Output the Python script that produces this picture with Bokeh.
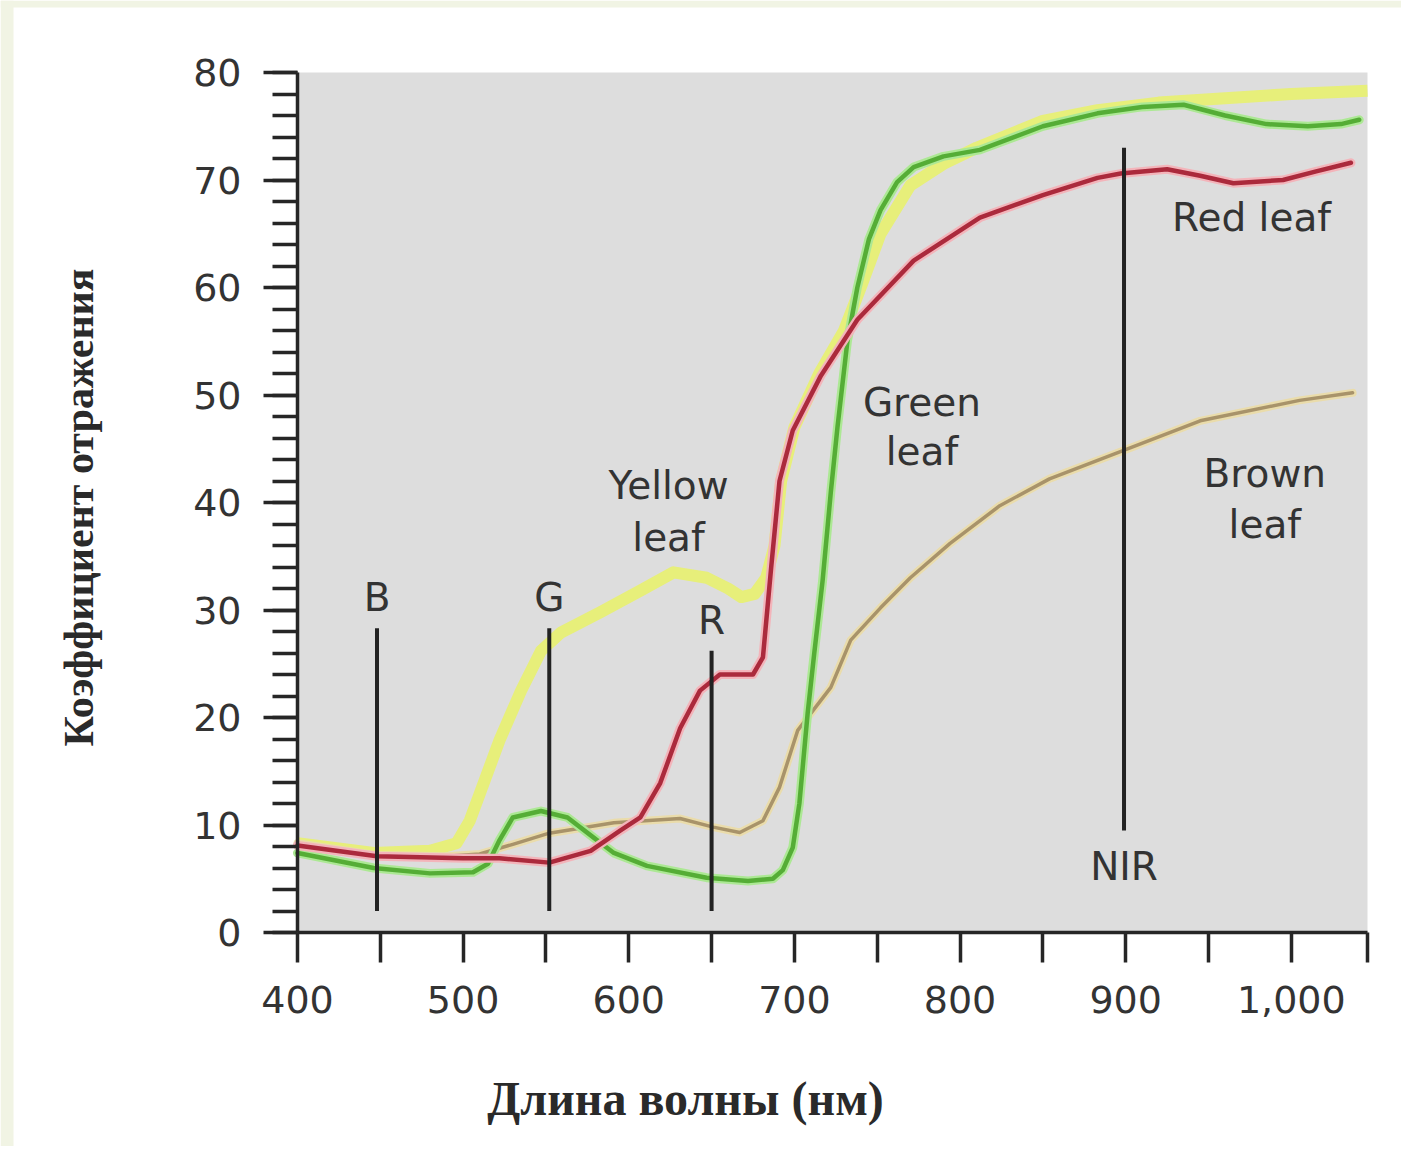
import math
from bokeh.plotting import figure
from bokeh.models import FixedTicker, BoxAnnotation
from bokeh.core.properties import value
from bokeh.embed import file_html
from bokeh.resources import INLINE

# ---------------- data ----------------
yellow_x = [400, 446, 480, 496, 504, 510, 522, 535, 547, 559, 583, 607, 627, 647, 660, 668, 676, 683,
            688, 692, 700, 715, 730, 740, 752, 770, 790, 810, 850, 883, 920, 960, 1000, 1046]
yellow_y = [8.3, 7.4, 7.6, 8.3, 10.4, 12.9, 17.9, 22.5, 26.2, 27.9, 29.8, 31.8, 33.5, 33.0, 32.0, 31.2, 31.5, 33.0,
            36.0, 42.0, 47.0, 52.0, 56.0, 60.0, 65.0, 69.5, 71.5, 73.0, 75.5, 76.5, 77.2, 77.6, 78.0, 78.3]

green_x = [400, 446, 480, 506, 515, 522, 530, 547, 563, 579, 591, 611, 647, 672, 687, 693, 699, 703,
           708, 712, 717, 722, 726, 732, 738, 745, 752, 762, 772, 790, 812, 850, 883, 910, 935, 960, 985, 1010,
           1030, 1041]
green_y = [7.4, 6.0, 5.5, 5.6, 6.4, 8.6, 10.7, 11.3, 10.7, 8.8, 7.4, 6.2, 5.1, 4.8, 5.0, 5.8, 7.9, 12.0,
           20.4, 26.0, 32.7, 41.0, 47.0, 55.0, 60.0, 64.5, 67.2, 69.8, 71.2, 72.2, 72.8, 75.0, 76.2, 76.8, 77.0, 76.0,
           75.2, 75.0, 75.2, 75.6]

red_x = [400, 448, 500, 522, 552, 577, 595, 607, 619, 631, 643, 655, 675, 681, 686, 691, 699, 716,
         738, 772, 812, 850, 883, 897, 925, 945, 965, 995, 1015, 1036]
red_y = [8.1, 7.1, 6.9, 6.9, 6.5, 7.6, 9.5, 10.7, 13.9, 19.0, 22.5, 24.0, 24.0, 25.6, 34.0, 42.0, 46.7, 51.8,
         57.0, 62.5, 66.5, 68.6, 70.2, 70.6, 71.0, 70.4, 69.7, 70.0, 70.8, 71.6]

brown_x = [400, 448, 490, 510, 530, 551, 591, 631, 651, 667, 681, 691, 702, 722, 734, 752, 770, 794,
           824, 854, 898, 945, 1005, 1037]
brown_y = [8.3, 7.2, 7.1, 7.3, 8.2, 9.2, 10.2, 10.6, 9.8, 9.3, 10.4, 13.5, 18.8, 22.8, 27.2, 30.2, 33.0, 36.2,
           39.7, 42.2, 44.8, 47.6, 49.5, 50.2]

band_names = ["B", "G", "R", "NIR"]
band_x = [448, 552, 650, 899]
band_top = [28.3, 28.3, 26.2, 73.0]
band_bottom = [2.0, 2.0, 2.0, 9.5]
band_label_y = [31.2, 31.2, 29.0, 6.1]

leaf_text = ["Yellow", "leaf", "Green", "leaf", "Red leaf", "Brown", "leaf"]
leaf_text_x = [624, 624, 777, 777, 976, 984, 984]
leaf_text_y = [41.6, 36.7, 49.3, 44.7, 66.5, 42.7, 38.0]

x_ticks = [400, 450, 500, 550, 600, 650, 700, 750, 800, 850, 900, 950, 1000, 1046]
x_tick_labels = {400: "400", 500: "500", 600: "600", 700: "700", 800: "800", 900: "900", 1000: "1,000"}
y_ticks = [0, 10, 20, 30, 40, 50, 60, 70, 80]
y_minor = list(range(0, 81, 2))

x_title = "Длина волны (нм)"
y_title = "Коэффициент отражения"

# ---------------- layout geometry ----------------
W, H = 1401, 1146
X0, X1 = 400, 1046          # plotted wavelength span
Y0, Y1 = 0, 80              # plotted reflectance span
PLOT_L, PLOT_R = 297, 1367  # pixel extent of the grey plotting box
PLOT_T, PLOT_B = 72, 932
sx = (PLOT_R - PLOT_L) / (X1 - X0)
sy = (PLOT_B - PLOT_T) / (Y1 - Y0)
xr = (X0 - PLOT_L / sx, X0 + (W - PLOT_L) / sx)
yr = (Y0 - (H - PLOT_B) / sy, Y0 + PLOT_B / sy)


def px_x(px):
    return X0 + (px - PLOT_L) / sx


def px_y(py):
    return Y0 + (PLOT_B - py) / sy


p = figure(width=W, height=H, x_range=xr, y_range=yr, output_backend="svg", toolbar_location=None,
           min_border=0, min_border_left=0, min_border_right=0, min_border_top=0, min_border_bottom=0)
p.background_fill_color = "white"
p.border_fill_color = "white"
p.outline_line_color = None
p.grid.visible = False

# page tint strips (left / top) and grey plotting box
p.add_layout(BoxAnnotation(right=px_x(13), fill_color="#f1f4e4", fill_alpha=1, line_color=None, level="underlay"))
p.add_layout(BoxAnnotation(bottom=px_y(7), fill_color="#f1f4e4", fill_alpha=1, line_color=None, level="underlay"))
p.add_layout(BoxAnnotation(left=X0, right=X1, bottom=Y0, top=Y1, fill_color="#dddddd", fill_alpha=1,
                           line_color=None, level="underlay"))

AX = "#262626"
TXT = "#333333"
FONT = "DejaVu Sans"
SERIF = "Liberation Serif"

# x axis
xa = p.xaxis[0]
xa.fixed_location = Y0
xa.bounds = (X0, X1)
xa.ticker = FixedTicker(ticks=x_ticks, minor_ticks=[])
xa.major_label_overrides = {t: x_tick_labels.get(t, "") for t in x_ticks}
xa.axis_line_width = 3.5
xa.axis_line_color = AX
xa.major_tick_line_width = 3.5
xa.major_tick_line_color = AX
xa.major_tick_out = 30
xa.major_tick_in = 0
xa.minor_tick_line_color = None
xa.major_label_standoff = 23
xa.major_label_text_font = FONT
xa.major_label_text_font_size = "38px"
xa.major_label_text_color = TXT

# y axis
ya = p.yaxis[0]
ya.fixed_location = X0
ya.bounds = (Y0, Y1)
ya.ticker = FixedTicker(ticks=y_ticks, minor_ticks=y_minor)
ya.axis_line_width = 3.5
ya.axis_line_color = AX
ya.major_tick_line_width = 3.5
ya.major_tick_line_color = AX
ya.major_tick_out = 34
ya.major_tick_in = 0
ya.minor_tick_line_width = 3.5
ya.minor_tick_line_color = AX
ya.minor_tick_out = 25
ya.minor_tick_in = 0
ya.major_label_standoff = 22
ya.major_label_text_font = FONT
ya.major_label_text_font_size = "38px"
ya.major_label_text_color = TXT

# ---------------- curves ----------------
p.line(yellow_x, yellow_y, line_color="#e7ef7a", line_width=12, line_join="round", line_cap="butt")

p.line(brown_x, brown_y, line_color="#eadcab", line_width=8, line_join="round", line_cap="round")
p.line(brown_x, brown_y, line_color="#a8936a", line_width=3.5, line_join="round", line_cap="round")

p.line(green_x, green_y, line_color="#ace894", line_width=9, line_join="round", line_cap="round")
p.line(green_x, green_y, line_color="#55ad36", line_width=4.5, line_join="round", line_cap="round")

p.line(red_x, red_y, line_color="#f3b4ba", line_width=9, line_join="round", line_cap="round")
p.line(red_x, red_y, line_color="#ab2a3c", line_width=4.5, line_join="round", line_cap="round")

# band markers
p.segment(x0=band_x, y0=band_bottom, x1=band_x, y1=band_top, line_color="#222222", line_width=4)
p.text(x=band_x, y=band_label_y, text=band_names, text_font=value(FONT), text_font_size=value("39px"),
       text_color=TXT, text_align="center", text_baseline="middle")

# leaf labels
p.text(x=leaf_text_x, y=leaf_text_y, text=leaf_text, text_font=value(FONT), text_font_size=value("39px"),
       text_color=TXT, text_align="center", text_baseline="middle")

# axis titles
p.text(x=[px_x(685)], y=[px_y(1098)], text=[x_title], text_font=value(SERIF), text_font_style="bold",
       text_font_size=value("48px"), text_color="#2a2a2a", text_align="center", text_baseline="middle")
p.text(x=[px_x(78)], y=[px_y(507)], text=[y_title], text_font=value(SERIF), text_font_style="bold",
       text_font_size=value("42px"), text_color="#2a2a2a", text_align="center", text_baseline="middle",
       angle=math.pi / 2)

open("out.html", "w").write(file_html(p, INLINE))
